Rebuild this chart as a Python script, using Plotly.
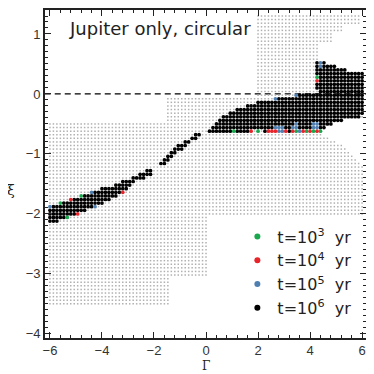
import plotly.graph_objects as go

# ---------------- data ----------------
G_STEP = 12 / 90          # grid step in Gamma
XI_STEP = 0.06            # grid step in xi
XI_ANCHOR = -0.62

# grey grid (all runs): blocks of rows  (xi_top, xi_bottom, gamma_min, gamma_max)
GREY_XI_TOP = [1.30, 1.12, 1.00, 0.82, -0.08, -0.44, -0.50, -0.56, -0.62, -0.68, -0.74, -0.80,
               -0.86, -0.92, -0.98, -1.04, -1.10, -1.16, -1.22, -2.06, -3.08]
GREY_XI_BOT = [1.18, 1.06, 0.88, -0.02, -0.38, -0.44, -0.50, -0.56, -0.62, -0.68, -0.74, -0.80,
               -0.86, -0.92, -0.98, -1.04, -1.10, -1.16, -2.00, -3.02, -3.50]
GREY_G_MIN = [2.0, 2.0, 2.0, 2.0, -1.467, -1.467, -6.0, -6.0, -6.0, -6.0, -6.0, -6.0,
              -6.0, -6.0, -6.0, -6.0, -6.0, -6.0, -6.0, -6.0, -6.0]
GREY_G_MAX = [5.867, 5.2, 4.8, 4.267, 6.0, 5.2, 4.8, 4.533, 4.4, 4.4, 4.667, 4.933,
              5.2, 5.333, 5.467, 5.6, 5.733, 5.867, 6.0, 0.0, -1.467]

# black band (t = 10^6 yr): one entry per row
BAND_XI = [0.52, 0.46, 0.40, 0.34, 0.28, 0.22, 0.16, 0.10, 0.04, -0.02, -0.08, -0.14, -0.20,
           -0.26, -0.32, -0.38, -0.44, -0.50, -0.56, -0.62,
           -0.68, -0.74, -0.80, -0.86, -0.92, -0.98, -1.04, -1.10, -1.16, -1.22, -1.28,
           -1.34, -1.40, -1.46, -1.52, -1.58, -1.64, -1.70, -1.76, -1.82, -1.88, -1.94,
           -2.00, -2.06, -2.12]
BAND_G_MIN = [4.267, 4.267, 4.267, 4.267, 4.267, 4.267, 4.267, 4.267, 4.4, 3.467, 2.667, 2.0, 1.6,
              1.2, 0.933, 0.667, 0.533, 0.4, 0.267, 0.067,
              -0.467, -0.6, -0.867, -1.067, -1.2, -1.333, -1.467, -1.6, -1.733, -1.933, -2.267,
              -2.533, -2.867, -3.2, -3.467, -4.0, -4.4, -4.8, -5.2, -5.6, -6.0, -6.0,
              -6.0, -6.0, -6.0]
BAND_G_MAX = [4.533, 4.933, 5.4, 6.0, 6.0, 6.0, 6.0, 6.0, 6.0, 6.0, 6.0, 6.0, 6.0,
              6.0, 6.0, 5.867, 5.2, 4.8, 4.533, 4.4,
              -0.2, -0.333, -0.6, -0.733, -0.933, -1.2, -1.333, -1.467, -1.6, -1.933, -2.067,
              -2.133, -2.4, -2.8, -2.933, -3.0, -3.2, -3.467, -3.733, -4.0, -4.267, -4.667,
              -4.933, -5.333, -5.733]
BAND_GAP_G = [1.867, 2.133]
BAND_GAP_XI = [-0.62, -0.62]

GREEN_G = [4.267, 1.067, 2.0, 3.467, 3.867, 4.133, 4.4, -4.8, -5.6, -5.333]
GREEN_XI = [0.28, -0.62, -0.62, -0.62, -0.62, -0.62, -0.62, -1.70, -1.82, -2.06]
RED_G = [4.267, 1.733, 2.4, 2.533, 2.667, 3.067, 3.333, 3.733, 4.0, 4.267, -3.2, -5.2, -4.933]
RED_XI = [0.22, -0.62, -0.62, -0.62, -0.62, -0.62, -0.62, -0.62, -0.62, -0.62, -1.64, -1.76, -2.00]
BLUE_G = [4.4, 4.4, 3.467, 2.667, 3.467, 4.133, 4.267, 2.667, 2.8, 2.933, 3.333, 3.467, 4.133,
          4.267, 2.8, 2.933, 3.6, -4.4, -6.0, -4.267]
BLUE_XI = [0.52, 0.46, -0.02, -0.08, -0.50, -0.50, -0.50, -0.56, -0.56, -0.56, -0.56, -0.56, -0.56,
           -0.56, -0.62, -0.62, -0.62, -1.64, -1.88, -1.88]

LEGEND_LABELS = ["t=10<sup>3</sup>  yr", "t=10<sup>4</sup>  yr",
                 "t=10<sup>5</sup>  yr", "t=10<sup>6</sup>  yr"]
X_TICKS = [-6, -4, -2, 0, 2, 4, 6]
Y_TICKS = [-4, -3, -2, -1, 0, 1]
TITLE = "Jupiter only, circular"

# ---------------- grid expansion ----------------
G_GRID = [round(-6 + i * G_STEP, 4) for i in range(91)]
XI_GRID = [round(XI_ANCHOR + j * XI_STEP, 4) for j in range(-48, 33)]
EPS = 1e-3


def expand(xi_top, xi_bot, gmin, gmax):
    xs, ys = [], []
    for t, b, g0, g1 in zip(xi_top, xi_bot, gmin, gmax):
        for xi in XI_GRID:
            if b - EPS <= xi <= t + EPS:
                for g in G_GRID:
                    if g0 - EPS <= g <= g1 + EPS:
                        xs.append(g)
                        ys.append(xi)
    return xs, ys


gx, gy = expand(GREY_XI_TOP, GREY_XI_BOT, GREY_G_MIN, GREY_G_MAX)
bx_all, by_all = expand(BAND_XI, BAND_XI, BAND_G_MIN, BAND_G_MAX)

skip = set()
for g, xi in zip(GREEN_G + RED_G + BLUE_G + BAND_GAP_G, GREEN_XI + RED_XI + BLUE_XI + BAND_GAP_XI):
    skip.add((round(g, 1), round(xi, 2)))
bx, by = [], []
for g, xi in zip(bx_all, by_all):
    if (round(g, 1), round(xi, 2)) not in skip:
        bx.append(g)
        by.append(xi)

# ---------------- figure ----------------
FONT = "DejaVu Sans, Liberation Sans, sans-serif"
TICKFONT = "Liberation Sans, Arial, sans-serif"
C_GREEN, C_RED, C_BLUE, C_BLACK = "#1aa84f", "#e8232a", "#4f7fb0", "#000000"
PS = 3.7

fig = go.Figure()
fig.add_trace(go.Scatter(x=gx, y=gy, mode="markers", showlegend=False, hoverinfo="skip",
                         marker=dict(symbol="square", size=1.5, color="#b0b0b0", line=dict(width=0))))
fig.add_trace(go.Scatter(x=bx, y=by, mode="markers", showlegend=False,
                         marker=dict(size=PS, color=C_BLACK, line=dict(width=0))))
for gg, xx, cc in [(GREEN_G, GREEN_XI, C_GREEN), (RED_G, RED_XI, C_RED), (BLUE_G, BLUE_XI, C_BLUE)]:
    fig.add_trace(go.Scatter(x=gg, y=xx, mode="markers", showlegend=False,
                             marker=dict(size=PS, color=cc, line=dict(width=0))))
for lab, cc in zip(LEGEND_LABELS, [C_GREEN, C_RED, C_BLUE, C_BLACK]):
    fig.add_trace(go.Scatter(x=[None], y=[None], mode="markers", name=lab,
                             marker=dict(size=6, color=cc, line=dict(width=0))))

fig.add_shape(type="line", xref="x", yref="y", x0=-6.2, x1=6.2, y0=0, y1=0,
              line=dict(color="#000", width=1.2, dash="6px,4px"), layer="below")

axis_common = dict(showline=True, linecolor="#222", linewidth=1.6, mirror="ticks",
                   ticks="inside", ticklen=6, tickwidth=1.2, tickcolor="#222",
                   showgrid=False, zeroline=False,
                   tickfont=dict(family=TICKFONT, size=13, color="#333"))
fig.update_xaxes(range=[-6.19, 6.15], tickvals=X_TICKS,
                 minor=dict(dtick=0.4, tick0=0, ticks="inside", ticklen=3, tickcolor="#222"),
                 **axis_common)
fig.update_yaxes(range=[-4.07, 1.40], tickvals=Y_TICKS,
                 minor=dict(dtick=0.1, tick0=0, ticks="inside", ticklen=3, tickcolor="#222"),
                 **axis_common)

fig.add_annotation(text=TITLE, xref="paper", yref="paper", x=0.068, y=0.945,
                   xanchor="left", yanchor="middle", showarrow=False,
                   font=dict(family=FONT, size=18, color="#222"))
fig.add_annotation(text="Γ", xref="paper", yref="paper", x=0.5016, y=-0.086,
                   xanchor="center", yanchor="middle", showarrow=False,
                   font=dict(family="DejaVu Serif, serif", size=12, color="#222"))
fig.add_annotation(text="ξ", xref="paper", yref="paper", x=-0.105, y=0.45,
                   xanchor="center", yanchor="middle", showarrow=False,
                   font=dict(family="DejaVu Serif, serif", size=14, color="#222"))

# page body has an 8px margin, so the figure is 366x366 and margins are reduced by 8
fig.update_layout(
    width=366, height=366,
    margin=dict(l=37, r=8, t=0, b=36),
    paper_bgcolor="white", plot_bgcolor="white",
    legend=dict(x=0.97, y=0.038, xanchor="right", yanchor="bottom",
                bgcolor="rgba(0,0,0,0)", itemwidth=30, tracegroupgap=0,
                font=dict(family=FONT, size=16, color="#222")),
)

fig.write_html("out.html")
